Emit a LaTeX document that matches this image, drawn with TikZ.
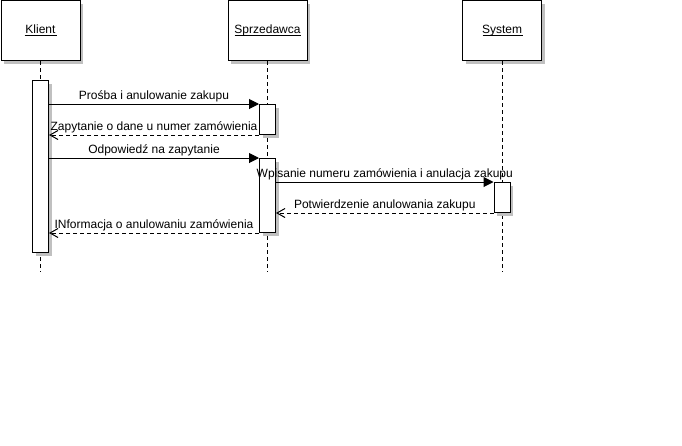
\documentclass[tikz,border=0pt]{standalone}
\usepackage{fontspec}
\setmainfont{Liberation Sans}
\usetikzlibrary{shadows,arrows.meta}
\definecolor{shadowgray}{RGB}{192,192,192}
\tikzset{
  shad/.style={general shadow={fill=shadowgray, shadow xshift=3pt, shadow yshift=-3pt}},
  head/.style={draw, fill=white, line width=1pt, minimum width=79pt, minimum height=60pt, inner sep=0pt, shad},
  act/.style={draw, fill=white, line width=1pt, minimum width=16pt, inner sep=0pt, anchor=north, shad},
  life/.style={line width=1pt, dash pattern=on 4pt off 3pt},
  call/.style={line width=1pt, -{Triangle[length=10pt,width=10pt]}},
  reply/.style={line width=1pt, dash pattern=on 4pt off 3pt, -{Straight Barb[length=8pt,width=9pt]}},
  lbl/.style={anchor=base, yshift=5pt, inner sep=0pt, font=\fontsize{12}{14}\selectfont},
  htxt/.style={anchor=base, inner sep=0pt, font=\fontsize{12}{14}\selectfont},
  uline/.style={draw=black, line width=1.2pt},
}
\begin{document}
\begin{tikzpicture}[x=1pt,y=-1pt]
\useasboundingbox (0,0) rectangle (682,445);
% headers
\node[head] (kl) at (40.5,30.5) {};
\node[head] (sp) at (267.5,30.5) {};
\node[head] (sy) at (502,30.5) {};
\node[htxt] (klt) at (40.5,33) {Klient};
\node[htxt] (spt) at (267.5,33) {Sprzedawca};
\node[htxt] (syt) at (502,33) {System};
\coordinate (klu1) at (24.5,35.5);
\coordinate (klu2) at (56.5,35.5);
\coordinate (spu1) at (234.5,35.5);
\coordinate (spu2) at (300.5,35.5);
\coordinate (syu1) at (482.5,35.5);
\coordinate (syu2) at (523,35.5);
\draw[uline] (klu1) -- (klu2);
\draw[uline] (spu1) -- (spu2);
\draw[uline] (syu1) -- (syu2);
% lifeline ends
\coordinate (klend) at (40.5,272);
\coordinate (spend) at (267.5,272);
\coordinate (syend) at (502,272);
\draw[life] (kl.south) -- (klend);
\draw[life] (sp.south) -- (spend);
\draw[life] (sy.south) -- (syend);
% activations
\node[act, minimum height=172pt] (ka) at (40.5,80) {};
\node[act, minimum height=30pt] (s1) at (267.5,104) {};
\node[act, minimum height=74pt] (s2) at (267.5,158) {};
\node[act, minimum height=30pt] (y1) at (502,182) {};
% messages
\draw[call] (ka.east |- s1.north west) -- node[lbl] {Prośba i anulowanie zakupu} (s1.north west);
\draw[reply] (s1.south west) -- node[lbl] {Zapytanie o dane u numer zamówienia} (ka.east |- s1.south west);
\draw[call] (ka.east |- s2.north west) -- node[lbl] {Odpowiedź na zapytanie} (s2.north west);
\draw[call] (s2.east |- y1.north west) -- node[lbl] {Wpisanie numeru zamówienia i anulacja zakupu} (y1.north west);
\draw[reply] (y1.south west) -- node[lbl] {Potwierdzenie anulowania zakupu} (s2.east |- y1.south west);
\draw[reply] (s2.south west) -- node[lbl] {INformacja o anulowaniu zamówienia} (ka.east |- s2.south west);
\end{tikzpicture}
\end{document}
